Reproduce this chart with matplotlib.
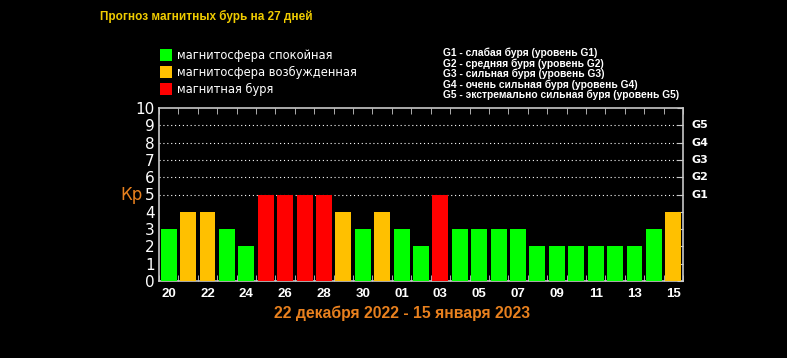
import matplotlib
matplotlib.use("Agg")
import matplotlib.pyplot as plt
from matplotlib.patches import Rectangle
import numpy as np

# Kp forecast, 20 Dec 2022 .. 15 Jan 2023
days = ["20", "21", "22", "23", "24", "25", "26", "27", "28", "29", "30", "31",
        "01", "02", "03", "04", "05", "06", "07", "08", "09", "10", "11", "12",
        "13", "14", "15"]
kp = [3, 4, 4, 3, 2, 5, 5, 5, 5, 4, 3, 4, 3, 2, 5, 3, 3, 3, 3, 2, 2, 2, 2, 2, 2, 3, 4]
status = ["calm", "active", "active", "calm", "calm", "storm", "storm", "storm", "storm",
          "active", "calm", "active", "calm", "calm", "storm", "calm", "calm", "calm",
          "calm", "calm", "calm", "calm", "calm", "calm", "calm", "calm", "active"]
legend_labels = ["магнитосфера спокойная", "магнитосфера возбужденная", "магнитная буря"]
g_levels = ["G1", "G2", "G3", "G4", "G5"]
g_legend = ["G1 - слабая буря (уровень G1)",
            "G2 - средняя буря (уровень G2)",
            "G3 - сильная буря (уровень G3)",
            "G4 - очень сильная буря (уровень G4)",
            "G5 - экстремально сильная буря (уровень G5)"]

colors = {"calm": "#00ff00", "active": "#ffc000", "storm": "#ff0000"}
spine_col = "#c8c8c8"
bold_font = "Liberation Sans"

fig = plt.figure(figsize=(7.87, 3.58), dpi=100, facecolor="black")
ax = fig.add_axes([159 / 787, 1 - 281 / 358, (683 - 159) / 787, (281 - 108) / 358])
ax.set_facecolor("black")

x = np.arange(len(days))
ax.bar(x, kp, width=0.82, color=[colors[s] for s in status], zorder=3)

ax.set_xlim(-0.5, len(days) - 0.5)
ax.set_ylim(0, 10)

# dotted grid for the storm levels
for lvl in range(5, 10):
    ax.axhline(lvl, color="white", linestyle=(0, (1, 2.5)), linewidth=0.8, zorder=1)

for sp in ax.spines.values():
    sp.set_color(spine_col)
    sp.set_linewidth(1.2)

ax.set_yticks(range(0, 11))
ax.set_yticklabels([str(i) for i in range(0, 11)], color="white", fontsize=11)
ax.tick_params(axis="y", direction="in", length=4, color=spine_col, pad=3,
               right=True, left=False)
ax.set_xticks(x[::2])
ax.set_xticklabels(days[::2], color="white", fontsize=9.5, fontweight="bold",
                   family=bold_font)
ax.tick_params(axis="x", length=0, pad=5)
ax.set_xticks(np.arange(-0.5, len(days), 1), minor=True)
ax.tick_params(axis="x", which="minor", direction="in", length=4, color=spine_col,
               top=True, bottom=True)

# G levels on the right
for i, g in enumerate(g_levels):
    ax.text(len(days) - 0.5 + 0.45, 5 + i, g, color="white", fontsize=8,
            fontweight="bold", va="center", ha="left", clip_on=False)

fig.text(120 / 787, 1 - 195 / 358, "Кр", color="#e8801e", fontsize=12,
         va="center", ha="left")

fig.text(100 / 787, 1 - 16 / 358, "Прогноз магнитных бурь на 27 дней",
         color="#f0cc00", fontsize=8.5, fontweight="bold", family=bold_font,
         va="center", ha="left")

# colour legend
for i, (lab, key) in enumerate(zip(legend_labels, ["calm", "active", "storm"])):
    yc = 55 + i * 17
    fig.add_artist(Rectangle((160 / 787, 1 - (yc + 6) / 358), 12 / 787, 12 / 358,
                             transform=fig.transFigure, facecolor=colors[key],
                             edgecolor="none"))
    fig.text(177 / 787, 1 - yc / 358, lab, color="white", fontsize=8.3,
             va="center", ha="left")

for i, lab in enumerate(g_legend):
    fig.text(443 / 787, 1 - (53 + i * 10.5) / 358, lab, color="white", fontsize=7.4,
             fontweight="bold", family=bold_font, va="center", ha="left")

fig.text(402 / 787, 1 - 313 / 358, "22 декабря 2022 - 15 января 2023",
         color="#e8801e", fontsize=11.3, fontweight="bold", family=bold_font,
         va="center", ha="center")

fig.savefig("out.png", dpi=100, facecolor="black")
